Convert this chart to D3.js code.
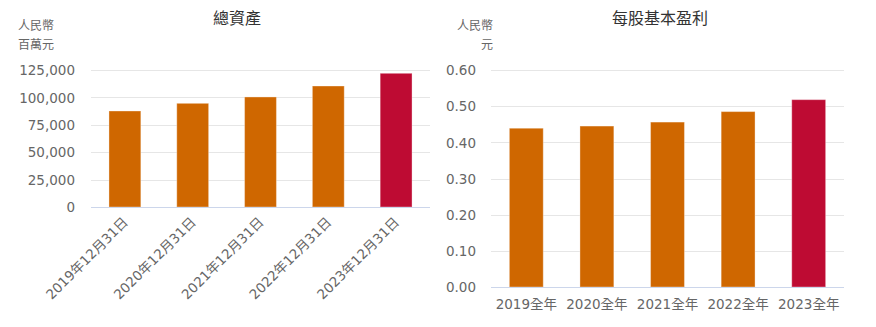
<!DOCTYPE html>
<html><head><meta charset="utf-8">
<script src="https://cdn.jsdelivr.net/npm/d3@7"></script>
<style>
html,body{margin:0;padding:0;background:#fff;}
svg{display:block;}
text{font-family:"DejaVu Sans","Noto Sans CJK TC",sans-serif;}
</style></head>
<body>
<script>
const assetCategories = ["2019年12月31日","2020年12月31日","2021年12月31日","2022年12月31日","2023年12月31日"];
const assetValues = [87600, 94600, 100400, 110400, 122000];
const assetTicks = [0, 25000, 50000, 75000, 100000, 125000];

const epsCategories = ["2019全年","2020全年","2021全年","2022全年","2023全年"];
const epsValues = [0.439, 0.445, 0.456, 0.485, 0.518];
const epsTicks = [0, 0.1, 0.2, 0.3, 0.4, 0.5, 0.6];

const ORANGE = "#CF6700", RED = "#BE0B33";

const svg = d3.select("body").append("svg").attr("width", 876).attr("height", 327);

function chart(opt) {
  const g = svg.append("g");
  const x = d3.scaleBand().domain(opt.cats).range([opt.x0, opt.x1]).paddingInner(opt.pad).paddingOuter(opt.pad/2);
  const y = d3.scaleLinear().domain([0, opt.max]).range([opt.yb, opt.yt]);
  // grid
  g.selectAll("line.grid").data(opt.ticks.slice(1)).join("line")
    .attr("x1", opt.x0).attr("x2", opt.x1)
    .attr("y1", d => Math.round(y(d)) + 0.5).attr("y2", d => Math.round(y(d)) + 0.5)
    .attr("stroke", "#e6e6e6").attr("stroke-width", 1);
  // y axis labels
  const ya = d3.axisLeft(y).tickValues(opt.ticks).tickFormat(opt.fmt).tickSize(0).tickPadding(0);
  const yg = g.append("g").attr("transform", `translate(${opt.labX},0)`).call(ya);
  yg.select(".domain").remove();
  yg.selectAll("text").attr("font-size", 13.5).attr("fill", "#666").attr("dy", "0.35em")
    .attr("font-family", "'DejaVu Sans',sans-serif");
  // bars
  g.selectAll("rect.bar").data(opt.vals).join("rect")
    .attr("x", (d, i) => x(opt.cats[i]))
    .attr("width", x.bandwidth())
    .attr("y", d => y(d))
    .attr("height", d => y(0) - y(d))
    .attr("fill", (d, i) => i === opt.vals.length - 1 ? RED : ORANGE)
    .attr("stroke", "#fff").attr("stroke-opacity", 0.35).attr("stroke-width", 1);
  // baseline
  g.append("line").attr("x1", opt.x0).attr("x2", opt.x1)
    .attr("y1", Math.round(y(0)) + 0.5).attr("y2", Math.round(y(0)) + 0.5)
    .attr("stroke", "#ccd6eb").attr("stroke-width", 1);
  // x labels
  const xa = d3.axisBottom(x).tickSize(0).tickPadding(0);
  const xg = g.append("g").attr("transform", `translate(0,${y(0)})`).call(xa);
  xg.select(".domain").remove();
  if (opt.rotate) {
    xg.selectAll("text").attr("font-size", 13.5).attr("fill", "#666")
      .attr("text-anchor", "end").attr("dy", 0).attr("y", 0)
      .attr("transform", "translate(4,16) rotate(-45)");
  } else {
    xg.selectAll("text").attr("font-size", 13.5).attr("fill", "#666").attr("y", 12).attr("dy", "0.71em");
  }
  // title
  g.append("text").attr("x", opt.titleX).attr("y", 24).attr("text-anchor", "middle")
    .attr("font-size", 16).attr("fill", "#333").text(opt.title);
  // unit
  opt.unit.forEach((t, i) => {
    g.append("text").attr("x", opt.unitX).attr("y", 30 + i * 19).attr("text-anchor", opt.unitAnchor)
      .attr("font-size", 12).attr("fill", "#666").text(t);
  });
}

chart({cats: assetCategories, vals: assetValues, ticks: assetTicks, max: 125000,
  x0: 91, x1: 430, yb: 207, yt: 70, pad: 0.53, labX: 75, rotate: true,
  fmt: d => d3.format(",")(d), title: "總資產", titleX: 237,
  unit: ["人民幣", "百萬元"], unitX: 18, unitAnchor: "start"});

chart({cats: epsCategories, vals: epsValues, ticks: epsTicks, max: 0.6,
  x0: 491, x1: 844, yb: 287, yt: 70, pad: 0.52, labX: 476, rotate: false,
  fmt: d3.format(".2f"), title: "每股基本盈利", titleX: 660,
  unit: ["人民幣", "元"], unitX: 493, unitAnchor: "end"});
</script>
</body></html>
